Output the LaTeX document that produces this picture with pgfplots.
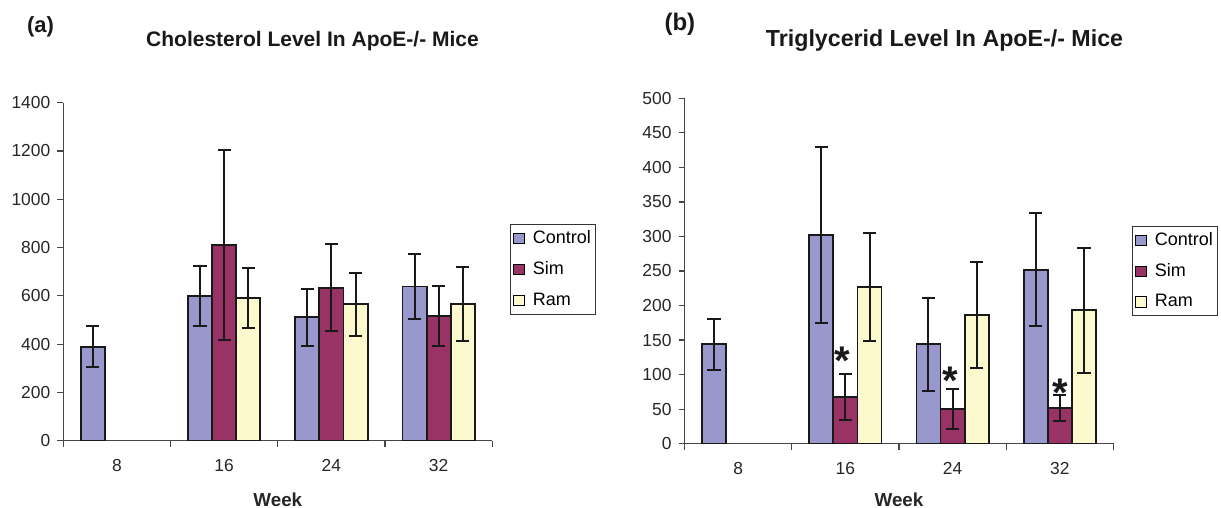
\documentclass[border=0pt]{standalone}
\usepackage{fontspec}
\setmainfont{Liberation Sans}
\usepackage{pgfplots}
\pgfplotsset{compat=1.18}

\definecolor{ctrl}{RGB}{152,152,204}
\definecolor{sim}{RGB}{153,51,102}
\definecolor{ram}{RGB}{252,249,206}
\definecolor{axisgray}{RGB}{70,70,70}

\pgfplotsset{
  weekaxis/.style={
    scale only axis, width=214.5pt,
    xmin=-0.5, xmax=3.5, ymin=0,
    axis x line=bottom, axis y line=left,
    axis line style={-, draw=axisgray, line width=0.6pt},
    tick style={draw=axisgray, line width=0.6pt},
    tick align=outside, major tick length=3pt,
    xtick={-0.5,0.5,1.5,2.5,3.5}, xticklabels={},
    extra x ticks={0,1,2,3}, extra x tick labels={8,16,24,32},
    extra x tick style={major tick length=0pt, xticklabel style={yshift=-6pt}},
    ticklabel style={font=\fontsize{8.7}{10}\selectfont, text=black!85},
    /pgf/number format/1000 sep={}, /pgf/number format/assume math mode=true,
    xlabel={Week},
    xlabel style={font=\fontsize{9.4}{11}\selectfont\bfseries, text=black!85,
      at={(axis description cs:0.5,0)}, anchor=center, yshift=-29.5pt},
    bar width=0.225,
    legend style={draw=black!80, line width=0.5pt, font=\fontsize{9}{10}\selectfont,
      anchor=north west, inner xsep=1.5pt, inner ysep=1pt, row sep=3.5pt,
      nodes={inner xsep=1pt},
      /tikz/every odd column/.append style={column sep=3pt},
      legend cell align=left},
  },
  grpbar/.style={ybar, bar shift=0pt, draw=black!90, line width=0.9pt, fill=#1,
    legend image code/.code={\draw[##1, draw=black, line width=0.5pt] (0pt,-2.6pt) rectangle (5.3pt,2.6pt);},
    error bars/y dir=both, error bars/y explicit,
    error bars/error bar style={line width=1pt, black!90},
    error bars/error mark options={rotate=90, mark size=3.3pt, line width=1pt, black!90}},
  star/.style={only marks, mark=*, mark size=0pt, forget plot,
    nodes near coords={\fontsize{20}{20}\selectfont\bfseries *},
    every node near coord/.append style={anchor=center, yshift=-4.3pt, inner sep=0pt, text=black!90}},
}

\begin{document}
\begin{tikzpicture}
\useasboundingbox (-31.65pt,-33.65pt) rectangle (578.85pt,220.35pt);

% (a) cholesterol -- control / sim / ram sit left / middle / right of each week
\begin{axis}[weekaxis, at={(0pt,0pt)}, anchor=south west,
    height=169pt, ymax=1400, ytick={0,200,...,1400},
    legend style={at={(axis description cs:1.0406,0.641)}}]
\addplot[grpbar=ctrl] coordinates {
  (-0.225,389) +- (0,85)  (0.775,599) +- (0,123)  (1.775,511) +- (0,117)  (2.775,639) +- (0,136)};
\addplot[grpbar=sim] coordinates {
  (1,810) +- (0,392)  (2,634) +- (0,180)  (3,518) +- (0,124)};
\addplot[grpbar=ram] coordinates {
  (1.225,591) +- (0,126)  (2.225,565) +- (0,130)  (3.225,565) +- (0,153)};
\legend{Control, Sim, Ram}
\end{axis}

% (b) triglycerid
\begin{axis}[weekaxis, at={(310.6pt,-1.5pt)}, anchor=south west,
    height=172.7pt, ymax=500, ytick={0,50,...,500},
    xlabel style={yshift=1.5pt},
    legend style={at={(axis description cs:1.0428,0.631)}}]
\addplot[grpbar=ctrl] coordinates {
  (-0.225,144) +- (0,37)  (0.775,302) +- (0,128)  (1.775,144) +- (0,67)  (2.775,252) +- (0,82)};
\addplot[grpbar=sim] coordinates {
  (1,68) +- (0,33)  (2,50) +- (0,29)  (3,52) +- (0,19)};
\addplot[grpbar=ram] coordinates {
  (1.225,227) +- (0,78)  (2.225,186) +- (0,77)  (3.225,193) +- (0,90)};
\addplot[star] coordinates {(0.97,132) (1.98,103) (3,86)};
\legend{Control, Sim, Ram}
\end{axis}

\node[anchor=base, font=\fontsize{11}{12}\selectfont\bfseries, text=black!90] at (-11.4pt,204.1pt) {(a)};
\node[anchor=base, font=\fontsize{10.5}{12}\selectfont\bfseries, text=black!90] at (124.6pt,197pt) {Cholesterol Level In ApoE-/- Mice};
\node[anchor=base, font=\fontsize{12}{13}\selectfont\bfseries, text=black!90] at (308.3pt,204.9pt) {(b)};
\node[anchor=base, font=\fontsize{11.6}{13}\selectfont\bfseries, text=black!90] at (440.6pt,197pt) {Triglycerid Level In ApoE-/- Mice};
\end{tikzpicture}
\end{document}
